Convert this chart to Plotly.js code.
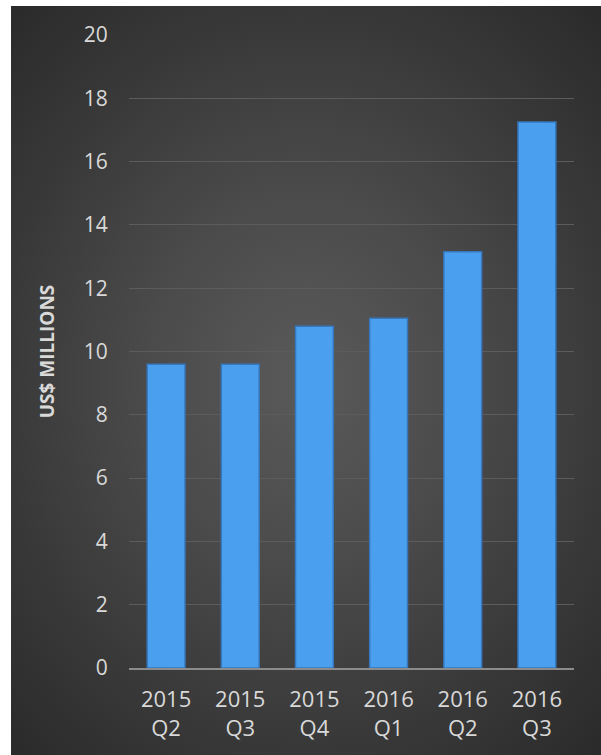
<!DOCTYPE html>
<html>
<head>
<meta charset="utf-8">
<script src="https://cdn.plot.ly/plotly-3.0.1.min.js"></script>
<style>
  html, body { margin: 0; padding: 0; background: #ffffff; }
  #bg {
    position: absolute; left: 11px; top: 6px; width: 590px; height: 749px;
    background: radial-gradient(ellipse 75% 70% at 50% 50%, #5a5a5a 0%, #4b4b4b 35%, #383838 70%, #292929 100%);
  }
  #chart { position: absolute; left: 0; top: 0; width: 601px; height: 755px; }
</style>
</head>
<body>
<div id="bg"></div>
<div id="chart"></div>
<script>
const categories = ["2015<br>Q2", "2015<br>Q3", "2015<br>Q4", "2016<br>Q1", "2016<br>Q2", "2016<br>Q3"];
const values = [9.6, 9.6, 10.8, 11.05, 13.15, 17.25];
const yTickVals = [0, 2, 4, 6, 8, 10, 12, 14, 16, 18, 20];
const yTitle = "US$ MILLIONS";

const font = "'Open Sans', 'Noto Sans', sans-serif";

Plotly.newPlot("chart", [{
  type: "bar",
  x: categories,
  y: values,
  marker: { color: "#4aa0ee", line: { color: "#3677bd", width: 1.5 } },
  hoverinfo: "none"
}], {
  width: 601, height: 755,
  margin: { l: 129, r: 27, t: 35, b: 87 },
  paper_bgcolor: "rgba(0,0,0,0)",
  plot_bgcolor: "rgba(0,0,0,0)",
  bargap: 0.49,
  showlegend: false,
  font: { family: font, color: "#d9d9d9", size: 20 },
  xaxis: {
    type: "category",
    showgrid: false,
    showline: true, linecolor: "#8c8c8c", linewidth: 2,
    ticks: "outside", ticklen: 11, tickcolor: "rgba(0,0,0,0)",
    tickfont: { family: font, size: 22, color: "#d9d9d9" },
    zeroline: false
  },
  yaxis: {
    range: [0, 20],
    tickvals: yTickVals,
    showgrid: true, gridcolor: "#5c5c5c", gridwidth: 1,
    zeroline: false, showline: false,
    ticks: "outside", ticklen: 16, tickcolor: "rgba(0,0,0,0)",
    tickfont: { family: font, size: 21, color: "#d9d9d9" },
    title: { text: yTitle, font: { family: font, size: 19, color: "#d9d9d9", weight: "bold" }, standoff: 24 }
  }
}, { staticPlot: true });
</script>
</body>
</html>
